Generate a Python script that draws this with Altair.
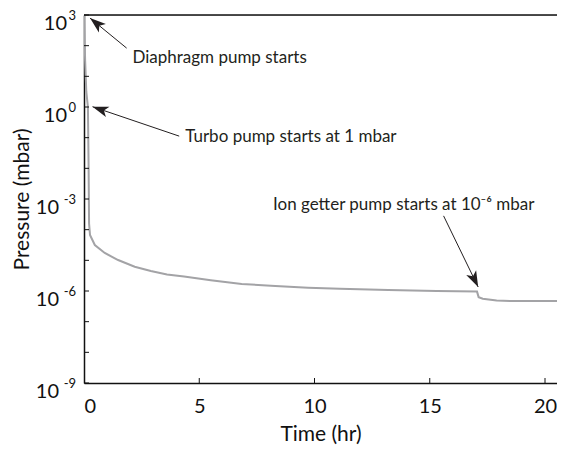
import math
import altair as alt
import pandas as pd

# ---- data ----
time_hr = [0, 0.05, 0.1, 0.17, 0.2, 0.22, 0.26, 0.47, 0.9, 1.48, 2.2, 2.9, 3.6, 4.34,
           5.5, 6.84, 8.3, 9.72, 11.1, 13.2, 15.3, 17.05, 17.12, 17.3, 17.9, 18.5, 20.52]
log_pressure = [3.0, 1.5, 0.5, 0.0, -2.0, -3.8, -4.17, -4.5, -4.76, -4.99, -5.21, -5.35, -5.46, -5.53,
                -5.65, -5.77, -5.84, -5.89, -5.93, -5.97, -6.0, -6.02, -6.2, -6.25, -6.31, -6.33, -6.33]

ann_text = ["Diaphragm pump starts", "Turbo pump starts at 1 mbar", "Ion getter pump starts at 10\u207b\u2076 mbar"]
ann_text_t = [2.1, 4.39, 8.2]
ann_text_logp = [1.6, -0.98, -3.2]
arrow_tail_t = [1.85, 4.13, 15.6]
arrow_tail_logp = [1.92, -0.95, -3.55]
arrow_tip_t = [0.26, 0.37, 17.1]
arrow_tip_logp = [2.9, 0.01, -5.87]

y_major_exp = [3, 0, -3, -6, -9]
y_minor_exp = list(range(-9, 4))
x_ticks = [5, 10, 15, 20]

X_MAX = 20.52
W, H = 473, 368
FONT = "Lato"

def px(t):
    return t / X_MAX * W

def py(lp):
    return (3 - lp) / 12 * H

curve = pd.DataFrame({"t": time_hr, "p": [10 ** v for v in log_pressure]})

arrows = pd.DataFrame({
    "t1": arrow_tail_t, "p1": [10 ** v for v in arrow_tail_logp],
    "t2": arrow_tip_t, "p2": [10 ** v for v in arrow_tip_logp],
})
angles = []
for a, b, c, d in zip(arrow_tail_t, arrow_tail_logp, arrow_tip_t, arrow_tip_logp):
    dx = px(c) - px(a)
    dy = py(d) - py(b)
    ang = math.degrees(math.atan2(dx, -dy)) % 360
    angles.append(ang)
arrows["angle"] = angles

labels = pd.DataFrame({"t": ann_text_t, "p": [10 ** v for v in ann_text_logp], "text": ann_text})

xs = alt.Scale(domain=[0, X_MAX], nice=False, zero=False)
ys = alt.Scale(type="log", domain=[1e-9, 1e3], nice=False)

base = alt.Chart(curve)

line = base.mark_line(color="#a3a3a6", strokeWidth=2, clip=True).encode(
    x=alt.X("t:Q", scale=xs,
            axis=alt.Axis(title="Time (hr)", values=[0, 5, 10, 15, 20], ticks=False,
                          domainColor="#111", domainWidth=1.5, labelFont=FONT, labelFontSize=20,
                          labelColor="#111", labelPadding=13, titleFont=FONT, titleFontSize=21,
                          titleFontWeight="normal", titleColor="#111", titlePadding=7, grid=False)),
    y=alt.Y("p:Q", scale=ys,
            axis=alt.Axis(title="Pressure (mbar)", values=[1e-9], labels=False, ticks=False,
                          domainColor="#111", domainWidth=1.5, titleFont=FONT, titleFontSize=21,
                          titleFontWeight="normal", titleColor="#111", titlePadding=52, grid=False)),
)

top_line = alt.Chart(pd.DataFrame({"p": [1e3]})).mark_rule(color="#111", strokeWidth=1.5).encode(
    y=alt.Y("p:Q", scale=ys), x=alt.value(0), x2=alt.value(W))

yt = pd.DataFrame({"p": [10.0 ** e for e in y_minor_exp]})
ytick = alt.Chart(yt).mark_rule(color="#111", strokeWidth=1).encode(
    y=alt.Y("p:Q", scale=ys), x=alt.value(0), x2=alt.value(5))

xt = pd.DataFrame({"t": x_ticks})
xtick = alt.Chart(xt).mark_rule(color="#111", strokeWidth=1).encode(
    x=alt.X("t:Q", scale=xs), y=alt.value(H), y2=alt.value(H - 5))

ylab = pd.DataFrame({"p": [10.0 ** e for e in y_major_exp], "e": [str(e) for e in y_major_exp],
                     "neg": [e < 0 for e in y_major_exp]})
base10_pos = alt.Chart(ylab).transform_filter("!datum.neg").mark_text(
    font=FONT, fontSize=20, color="#111", align="right", baseline="middle", dy=9).encode(
    y=alt.Y("p:Q", scale=ys), x=alt.value(-17), text=alt.value("10"))
base10_neg = alt.Chart(ylab).transform_filter("datum.neg").mark_text(
    font=FONT, fontSize=20, color="#111", align="right", baseline="middle", dy=9).encode(
    y=alt.Y("p:Q", scale=ys), x=alt.value(-25), text=alt.value("10"))
exps = alt.Chart(ylab).mark_text(
    font=FONT, fontSize=13, color="#111", align="right", baseline="middle", dy=1).encode(
    y=alt.Y("p:Q", scale=ys), x=alt.value(-8), text="e:N")

shafts = alt.Chart(arrows).mark_rule(color="#231f20", strokeWidth=1).encode(
    x=alt.X("t1:Q", scale=xs), y=alt.Y("p1:Q", scale=ys),
    x2="t2:Q", y2="p2:Q")

heads = alt.Chart(arrows).mark_point(
    shape="M0,0 L0.55,1.6 L0,1.2 L-0.55,1.6 Z", filled=True, color="#231f20",
    size=400, opacity=1, strokeWidth=0).encode(
    x=alt.X("t2:Q", scale=xs), y=alt.Y("p2:Q", scale=ys), angle=alt.Angle("angle:Q", scale=None))

texts = alt.Chart(labels).mark_text(font=FONT, fontSize=17, color="#231f20", align="left",
                                    baseline="middle").encode(
    x=alt.X("t:Q", scale=xs), y=alt.Y("p:Q", scale=ys), text="text:N")

chart = alt.layer(line, top_line, ytick, xtick, base10_pos, base10_neg, exps, shafts, heads, texts).properties(
    width=W, height=H,
    autosize=alt.AutoSizeParams(type="none"),
    padding={"left": 76, "top": 7, "right": 0, "bottom": 64},
).configure_view(stroke=None).configure(background="white")

chart.save("out.html", embed_options={"renderer": "svg", "actions": False})
